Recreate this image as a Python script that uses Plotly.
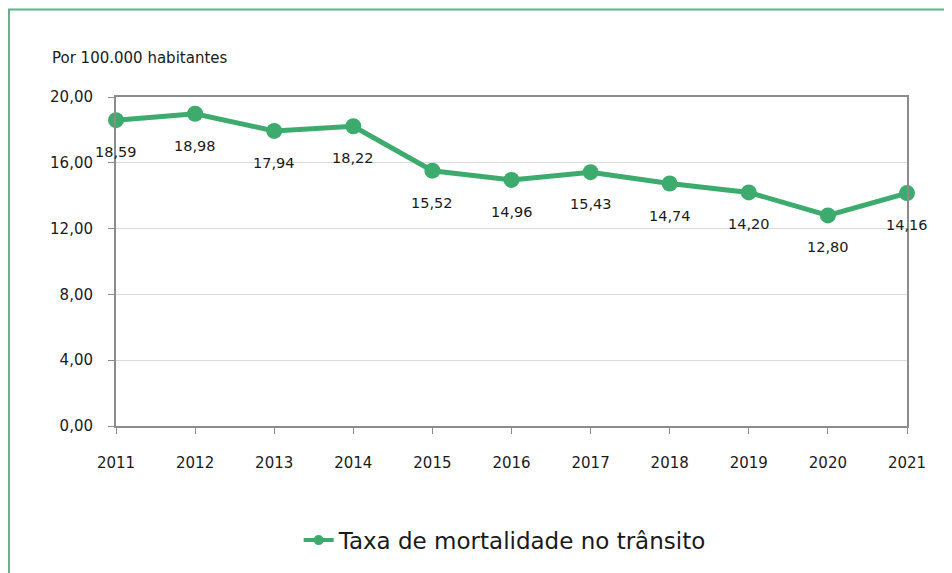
import plotly.graph_objects as go

years = [2011, 2012, 2013, 2014, 2015, 2016, 2017, 2018, 2019, 2020, 2021]
rates = [18.59, 18.98, 17.94, 18.22, 15.52, 14.96, 15.43, 14.74, 14.20, 12.80, 14.16]
y_ticks = [0, 4, 8, 12, 16, 20]
series_name = "Taxa de mortalidade no trânsito"
unit_label = "Por 100.000 habitantes"

GREEN = "#3dab6e"
AXIS = "#8c8c8c"
GRID = "#d9d9d9"
FONT = "DejaVu Sans, Verdana, sans-serif"
TXT = "#1a1a1a"

fig = go.Figure()
fig.add_trace(go.Scatter(
    x=years, y=rates, mode="lines+markers", name=series_name,
    line=dict(color=GREEN, width=5),
    marker=dict(color=GREEN, size=16),
    cliponaxis=False, showlegend=False,
))
# legend entry with smaller symbol, like the original
fig.add_trace(go.Scatter(
    x=[None], y=[None], mode="lines+markers", name=series_name,
    line=dict(color=GREEN, width=4),
    marker=dict(color=GREEN, size=10),
    showlegend=True,
))

for x, y in zip(years, rates):
    fig.add_annotation(x=x, y=y, text=f"{y:.2f}".replace(".", ","),
                       showarrow=False, yshift=-32,
                       font=dict(family=FONT, size=14.5, color=TXT))

fig.add_annotation(xref="paper", yref="paper", x=-0.0834, y=1.12,
                   xanchor="left", yanchor="middle", showarrow=False,
                   text=unit_label, font=dict(family=FONT, size=15, color=TXT))

fig.add_shape(type="rect", xref="paper", yref="paper",
              x0=-0.1353, x1=1.3, y0=-0.8, y1=1.266,
              line=dict(color="#5fb48c", width=2), layer="below")

fig.update_layout(
    width=944, height=565,
    margin=dict(l=108, r=45, t=89, b=147),
    paper_bgcolor="white", plot_bgcolor="white",
    separators=",.",
    showlegend=True,
    legend=dict(orientation="h", x=0.492, y=-0.347, xanchor="center", yanchor="middle",
                font=dict(family=FONT, size=23, color=TXT),
                itemwidth=30),
    font=dict(family=FONT, size=15, color=TXT),
)
fig.update_xaxes(
    range=[2011, 2021], tickvals=years, ticktext=[str(y) for y in years],
    showline=True, linecolor=AXIS, linewidth=2, mirror=True,
    ticks="outside", ticklen=6, tickcolor=AXIS, tickwidth=1,
    showgrid=False, zeroline=False, ticklabelstandoff=16,
    tickfont=dict(family=FONT, size=15, color=TXT),
)
fig.update_yaxes(
    range=[0, 20], tickvals=y_ticks, tickformat=".2f",
    showline=True, linecolor=AXIS, linewidth=2, mirror=True,
    ticks="outside", ticklen=6, tickcolor=AXIS, tickwidth=1,
    showgrid=True, gridcolor=GRID, gridwidth=1, zeroline=False,
    ticklabelstandoff=12,
    tickfont=dict(family=FONT, size=15, color=TXT),
)

fig.write_html("out.html")
